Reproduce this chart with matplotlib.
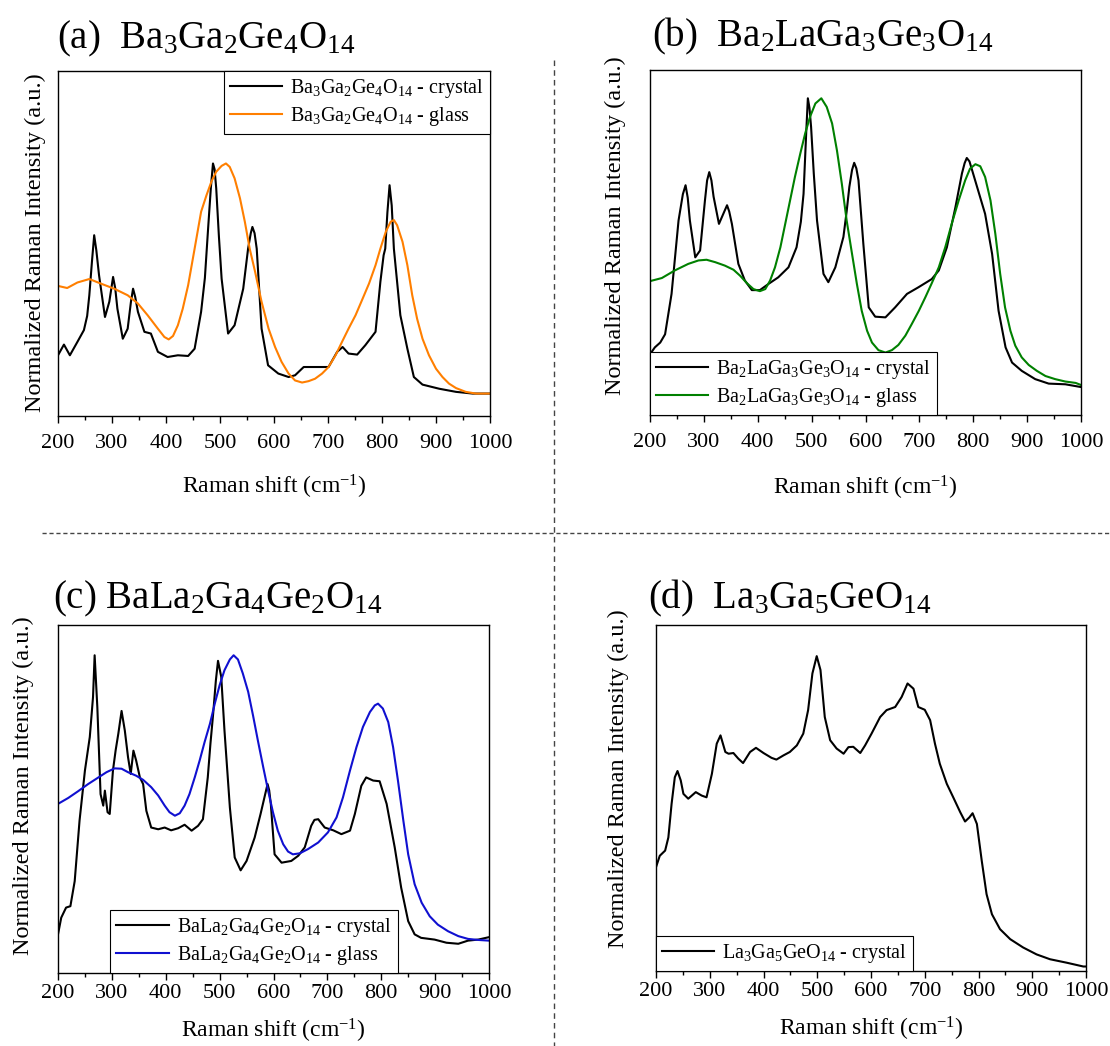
import re
import matplotlib
matplotlib.use("Agg")
import matplotlib.pyplot as plt
from matplotlib.lines import Line2D
from matplotlib.ticker import MultipleLocator

plt.rcParams['font.family'] = ['Liberation Serif', 'DejaVu Serif']
plt.rcParams['mathtext.fontset'] = 'custom'
plt.rcParams['mathtext.rm'] = 'Liberation Serif'
plt.rcParams['mathtext.it'] = 'Liberation Serif:italic'
plt.rcParams['lines.solid_joinstyle'] = 'round'

# (a) Ba3Ga2Ge4O14
a_x_crystal = [200, 211, 222, 236, 248, 254, 258, 263, 267, 271, 276, 287, 295, 302, 306, 310,
               320, 329, 335, 339, 343, 348, 360, 372, 385, 403, 422, 441, 453, 465, 472, 478,
               483, 487, 490, 493, 498, 503, 515, 527, 543, 552, 557, 560, 564, 568, 577, 589,
               608, 627, 639, 655, 676, 701, 717, 727, 738, 754, 769, 788, 797, 803, 806, 810,
               814, 818, 822, 834, 847, 859, 875, 906, 937, 968, 1000]
a_y_crystal = [0.176, 0.207, 0.176, 0.215, 0.249, 0.290, 0.350, 0.450, 0.524, 0.480, 0.408, 0.287,
               0.331, 0.403, 0.370, 0.311, 0.224, 0.253, 0.330, 0.369, 0.345, 0.302, 0.244, 0.239,
               0.186, 0.171, 0.176, 0.174, 0.195, 0.302, 0.400, 0.544, 0.660, 0.732, 0.715, 0.660,
               0.520, 0.398, 0.239, 0.263, 0.369, 0.485, 0.530, 0.548, 0.530, 0.485, 0.253, 0.147,
               0.123, 0.113, 0.118, 0.142, 0.142, 0.142, 0.186, 0.200, 0.181, 0.178, 0.205, 0.244,
               0.389, 0.466, 0.485, 0.590, 0.669, 0.610, 0.485, 0.292, 0.195, 0.113, 0.091, 0.079,
               0.070, 0.065, 0.065]
a_x_glass = [200, 217, 236, 258, 279, 304, 329, 348, 366, 385, 397, 405, 413, 422, 431, 441, 453,
             465, 475, 484, 493, 503, 511, 518, 527, 537, 546, 555, 565, 577, 590, 602, 614, 627,
             639, 652, 664, 676, 689, 701, 714, 726, 738, 751, 763, 776, 788, 797, 807, 816, 822,
             828, 838, 847, 856, 865, 875, 887, 900, 912, 924, 937, 955, 974, 1000]
a_y_glass = [0.377, 0.371, 0.387, 0.397, 0.384, 0.369, 0.350, 0.326, 0.292, 0.253, 0.229, 0.222,
             0.232, 0.263, 0.311, 0.379, 0.485, 0.592, 0.640, 0.679, 0.708, 0.725, 0.732, 0.722,
             0.689, 0.631, 0.563, 0.485, 0.418, 0.331, 0.253, 0.200, 0.157, 0.123, 0.103, 0.097,
             0.101, 0.108, 0.123, 0.142, 0.176, 0.215, 0.253, 0.292, 0.336, 0.384, 0.437, 0.485,
             0.534, 0.563, 0.568, 0.553, 0.505, 0.437, 0.350, 0.282, 0.224, 0.176, 0.137, 0.113,
             0.094, 0.081, 0.070, 0.065, 0.065]

# (b) Ba2LaGa3Ge3O14
b_x_crystal = [200, 209, 219, 228, 240, 253, 261, 266, 270, 274, 284, 293, 302, 306, 310, 314,
               318, 328, 338, 343, 347, 352, 364, 376, 389, 404, 420, 438, 457, 472, 480, 485,
               490, 493, 496, 499, 504, 510, 522, 531, 544, 559, 565, 570, 575, 579, 583, 587,
               596, 606, 618, 637, 655, 677, 698, 723, 736, 751, 767, 779, 784, 788, 793, 798,
               810, 822, 835, 847, 860, 872, 890, 915, 940, 971, 1000]
b_y_crystal = [0.176, 0.196, 0.210, 0.234, 0.351, 0.564, 0.640, 0.666, 0.630, 0.564, 0.457, 0.477,
               0.622, 0.680, 0.704, 0.680, 0.633, 0.554, 0.590, 0.608, 0.590, 0.554, 0.438, 0.390,
               0.362, 0.362, 0.380, 0.399, 0.428, 0.486, 0.560, 0.641, 0.820, 0.918, 0.890, 0.835,
               0.700, 0.564, 0.409, 0.385, 0.428, 0.516, 0.590, 0.661, 0.710, 0.731, 0.715, 0.680,
               0.496, 0.312, 0.285, 0.283, 0.312, 0.351, 0.370, 0.394, 0.419, 0.486, 0.603, 0.700,
               0.730, 0.745, 0.735, 0.709, 0.646, 0.583, 0.467, 0.302, 0.196, 0.152, 0.128, 0.104,
               0.091, 0.089, 0.081]
b_x_glass = [200, 222, 246, 271, 290, 305, 321, 339, 355, 367, 380, 392, 404, 414, 423, 432, 442,
             451, 460, 469, 479, 488, 497, 507, 518, 528, 538, 547, 556, 565, 575, 584, 593, 603,
             612, 624, 637, 649, 661, 674, 686, 699, 711, 723, 736, 748, 760, 773, 785, 794, 804,
             813, 822, 832, 841, 850, 859, 869, 878, 890, 903, 918, 934, 952, 971, 990, 1000]
b_y_glass = [0.388, 0.397, 0.419, 0.438, 0.448, 0.450, 0.443, 0.433, 0.421, 0.404, 0.382, 0.365,
             0.359, 0.365, 0.390, 0.428, 0.486, 0.554, 0.622, 0.690, 0.758, 0.816, 0.864, 0.903,
             0.918, 0.893, 0.845, 0.767, 0.671, 0.564, 0.467, 0.380, 0.302, 0.244, 0.210, 0.188,
             0.181, 0.188, 0.203, 0.230, 0.264, 0.302, 0.341, 0.382, 0.428, 0.486, 0.554, 0.622,
             0.680, 0.714, 0.727, 0.721, 0.690, 0.622, 0.525, 0.409, 0.312, 0.244, 0.201, 0.167,
             0.145, 0.128, 0.113, 0.104, 0.097, 0.093, 0.087]

# (c) BaLa2Ga4Ge2O14
c_x_crystal = [200, 206, 215, 223, 231, 240, 250, 259, 265, 268, 273, 279, 284, 287, 292, 296,
               302, 307, 312, 318, 324, 330, 335, 340, 345, 352, 358, 364, 373, 386, 398, 410,
               423, 435, 448, 460, 469, 478, 483, 488, 493, 497, 503, 509, 519, 528, 539, 550,
               565, 576, 584, 589, 592, 595, 602, 615, 633, 646, 658, 670, 676, 683, 695, 711,
               726, 742, 751, 763, 772, 785, 797, 810, 825, 837, 850, 862, 874, 899, 921, 943,
               961, 980, 1000]
c_y_crystal = [0.111, 0.159, 0.188, 0.192, 0.264, 0.438, 0.582, 0.678, 0.793, 0.913, 0.764, 0.514,
               0.481, 0.524, 0.462, 0.457, 0.582, 0.640, 0.688, 0.753, 0.697, 0.620, 0.572, 0.639,
               0.611, 0.562, 0.543, 0.466, 0.418, 0.413, 0.418, 0.410, 0.416, 0.426, 0.409, 0.423,
               0.442, 0.562, 0.660, 0.745, 0.840, 0.897, 0.851, 0.697, 0.476, 0.332, 0.295, 0.322,
               0.389, 0.457, 0.510, 0.543, 0.525, 0.486, 0.341, 0.317, 0.322, 0.337, 0.361, 0.423,
               0.440, 0.442, 0.418, 0.410, 0.399, 0.409, 0.457, 0.538, 0.562, 0.553, 0.551, 0.486,
               0.361, 0.245, 0.149, 0.111, 0.101, 0.096, 0.087, 0.084, 0.093, 0.096, 0.103]
c_x_glass = [200, 219, 237, 256, 274, 290, 305, 318, 330, 345, 358, 373, 386, 398, 407, 417, 426,
             435, 444, 454, 463, 472, 482, 491, 500, 509, 519, 526, 534, 543, 553, 562, 571, 581,
             590, 599, 608, 618, 627, 636, 649, 664, 683, 701, 717, 729, 742, 754, 766, 779, 788,
             794, 803, 813, 822, 831, 841, 850, 862, 875, 890, 905, 924, 943, 961, 980, 1000]
c_y_glass = [0.486, 0.503, 0.522, 0.543, 0.561, 0.577, 0.588, 0.587, 0.577, 0.567, 0.555, 0.534,
             0.510, 0.481, 0.462, 0.452, 0.459, 0.481, 0.514, 0.563, 0.611, 0.663, 0.716, 0.774,
             0.827, 0.870, 0.901, 0.913, 0.901, 0.861, 0.808, 0.740, 0.668, 0.591, 0.524, 0.462,
             0.409, 0.370, 0.349, 0.341, 0.344, 0.356, 0.375, 0.404, 0.447, 0.505, 0.582, 0.649,
             0.707, 0.750, 0.769, 0.774, 0.760, 0.721, 0.649, 0.553, 0.438, 0.341, 0.255, 0.202,
             0.163, 0.139, 0.120, 0.106, 0.098, 0.095, 0.093]

# (d) La3Ga5GeO14
d_x_crystal = [200, 207, 217, 223, 229, 235, 240, 246, 251, 260, 274, 285, 294, 304, 313, 320,
               329, 335, 344, 353, 362, 375, 386, 400, 415, 424, 437, 449, 462, 474, 483, 491,
               499, 506, 514, 524, 536, 549, 558, 567, 580, 589, 601, 617, 629, 645, 657, 668,
               679, 688, 700, 710, 719, 728, 741, 753, 766, 775, 783, 789, 797, 806, 815, 825,
               840, 859, 883, 908, 933, 964, 995, 1000]
d_y_crystal = [0.300, 0.333, 0.348, 0.386, 0.483, 0.560, 0.578, 0.551, 0.512, 0.498, 0.517, 0.507,
               0.502, 0.570, 0.657, 0.681, 0.633, 0.628, 0.630, 0.614, 0.601, 0.633, 0.645, 0.630,
               0.616, 0.611, 0.623, 0.633, 0.652, 0.686, 0.754, 0.860, 0.910, 0.870, 0.734, 0.667,
               0.643, 0.628, 0.647, 0.648, 0.630, 0.652, 0.686, 0.734, 0.754, 0.763, 0.792, 0.831,
               0.816, 0.763, 0.755, 0.725, 0.657, 0.599, 0.541, 0.502, 0.459, 0.432, 0.444, 0.456,
               0.425, 0.319, 0.222, 0.164, 0.121, 0.092, 0.068, 0.048, 0.034, 0.024, 0.013, 0.013]


def formula(s):
    # turn digit runs into subscripts
    return re.sub(r'(\d+)', r'$_{\\mathregular{\1}}$', s)


W, H = 1110, 1046
fig = plt.figure(figsize=(W / 100, H / 100), dpi=100)


def box(l, r, t, b):
    return [l / W, (H - b) / H, (r - l) / W, (b - t) / H]


panels = [
    dict(rect=box(58, 490, 71, 416), tag='(a)  ', name='Ba3Ga2Ge4O14', title_xy=(57, 48),
         series=[(a_x_crystal, a_y_crystal, 'crystal', 'black'),
                 (a_x_glass, a_y_glass, 'glass', '#ff7f00')],
         leg=dict(loc='upper right', bbox_to_anchor=(1, 1)),
         ylab=(-0.028, 0.503), tick_pad=8, xlab_pad=14),
    dict(rect=box(650, 1081, 70, 415), tag='(b)  ', name='Ba2LaGa3Ge3O14', title_xy=(652, 46),
         series=[(b_x_crystal, b_y_crystal, 'crystal', 'black'),
                 (b_x_glass, b_y_glass, 'glass', '#008000')],
         leg=dict(loc='lower left', bbox_to_anchor=(0, 0)),
         ylab=(-0.056, 0.549), tick_pad=8, xlab_pad=16),
    dict(rect=box(58, 489, 625, 973), tag='(c) ', name='BaLa2Ga4Ge2O14', title_xy=(53, 608),
         series=[(c_x_crystal, c_y_crystal, 'crystal', 'black'),
                 (c_x_glass, c_y_glass, 'glass', '#1010d0')],
         leg=dict(loc='lower left', bbox_to_anchor=(0.121, 0)),
         ylab=(-0.056, 0.539), tick_pad=3, xlab_pad=10),
    dict(rect=box(656, 1086, 625, 971), tag='(d)  ', name='La3Ga5GeO14', title_xy=(648, 608),
         series=[(d_x_crystal, d_y_crystal, 'crystal', 'black')],
         leg=dict(loc='lower left', bbox_to_anchor=(0, 0)),
         ylab=(-0.063, 0.557), tick_pad=3, xlab_pad=10),
]

for p in panels:
    ax = fig.add_axes(p['rect'])
    for xs, ys, kind, col in p['series']:
        ax.plot(xs, ys, color=col, lw=1.5, label=formula(p['name']) + ' - ' + kind)
    ax.set_xlim(200, 1000)
    ax.set_ylim(0, 1)
    ax.xaxis.set_major_locator(MultipleLocator(100))
    ax.xaxis.set_minor_locator(MultipleLocator(50))
    ax.set_yticks([])
    ax.tick_params(axis='x', which='major', direction='out', length=5, width=1,
                   labelsize=16, pad=p['tick_pad'])
    ax.tick_params(axis='x', which='minor', direction='out', length=3, width=1)
    for sp in ax.spines.values():
        sp.set_linewidth(1.0)
    ax.set_xlabel('Raman shift (cm$^{\\mathregular{-1}}$)', fontsize=17, labelpad=p['xlab_pad'])
    ax.set_ylabel('Normalized Raman Intensity (a.u.)', fontsize=17.5)
    ax.yaxis.set_label_coords(*p['ylab'])
    ax.legend(fontsize=14.5, frameon=True, fancybox=False, edgecolor='black', framealpha=1,
              borderaxespad=0, handlelength=2.6, handletextpad=0.4, borderpad=0.3,
              labelspacing=0.25, **p['leg']).get_frame().set_linewidth(0.8)
    tx, ty = p['title_xy']
    fig.text(tx / W, 1 - ty / H, p['tag'] + formula(p['name']), fontsize=28, va='baseline')

# dashed separators between the four panels
fig.add_artist(Line2D([42 / W, 1.0], [1 - 533 / H, 1 - 533 / H], transform=fig.transFigure,
                      color='#444444', lw=1.0, ls=(0, (3, 2))))
fig.add_artist(Line2D([554 / W, 554 / W], [1 - 60 / H, 0], transform=fig.transFigure,
                      color='#444444', lw=1.0, ls=(0, (4, 3))))

fig.savefig('out.png', dpi=100)
